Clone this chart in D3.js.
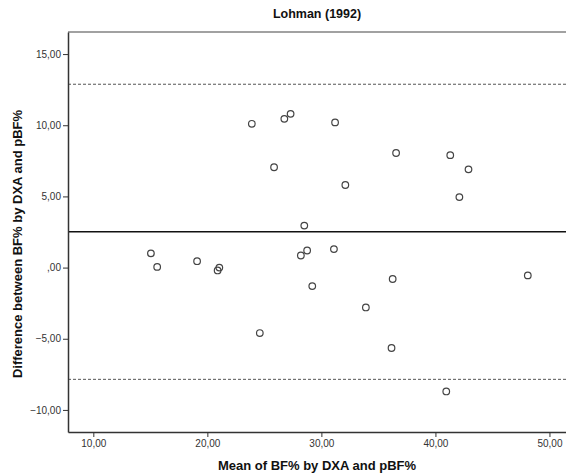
<!DOCTYPE html>
<html>
<head>
<meta charset="utf-8">
<script src="https://cdn.jsdelivr.net/npm/d3@7"></script>
<style>
  body { margin: 0; background: #fff; }
  text { font-family: "Liberation Sans", Arial, sans-serif; }
</style>
</head>
<body>
<svg width="566" height="476"></svg>
<script>
// values
var meanBF = [23.9, 26.75, 27.3, 25.85, 28.5, 15.05, 15.6, 19.1, 21.05, 20.9, 28.2, 28.75, 29.2,
              31.2, 36.55, 41.3, 42.9, 32.1, 42.1, 31.1, 36.25, 48.1, 33.9, 36.15, 40.95, 24.6];
var diffBF = [10.1, 10.45, 10.8, 7.05, 2.95, 1.0, 0.05, 0.45, 0.0, -0.2, 0.85, 1.2, -1.3,
              10.2, 8.05, 7.9, 6.9, 5.8, 4.95, 1.3, -0.8, -0.55, -2.8, -5.65, -8.7, -4.6];
var xTicks = [10, 20, 30, 40, 50];
var yTicks = [-10, -5, 0, 5, 10, 15];
var meanLine = 2.52;
var limitLines = [12.88, -7.85];

var svg = d3.select('svg');
var padding = {t: 32, r: 0, b: 44, l: 68};
var svgWidth = +svg.attr('width');
var svgHeight = +svg.attr('height');

var xScale = d3.scaleLinear().domain([7.78, 51.45]).range([padding.l, svgWidth - padding.r]);
var yScale = d3.scaleLinear().domain([-11.55, 16.55]).range([svgHeight - padding.b, padding.t]);

var fmt = function(d) {
    var s = d3.format('.2f')(d).replace('.', ',');
    return s.replace(/^0,/, ',').replace(/^-0,/, '-,');
};

// frame top line
svg.append('line')
    .attr('x1', padding.l).attr('x2', svgWidth)
    .attr('y1', yScale.range()[1]).attr('y2', yScale.range()[1])
    .attr('stroke', '#444').attr('stroke-width', 1.2);

// reference lines
svg.append('line')
    .attr('x1', padding.l).attr('x2', svgWidth)
    .attr('y1', yScale(meanLine)).attr('y2', yScale(meanLine))
    .attr('stroke', '#111').attr('stroke-width', 1.5);

svg.selectAll('.limit')
    .data(limitLines)
    .enter()
    .append('line')
    .attr('class', 'limit')
    .attr('x1', padding.l).attr('x2', svgWidth)
    .attr('y1', function(d){return yScale(d);})
    .attr('y2', function(d){return yScale(d);})
    .attr('stroke', '#555').attr('stroke-width', 1)
    .attr('stroke-dasharray', '3,2');

// axes
var xAxis = d3.axisBottom(xScale).tickValues(xTicks).tickFormat(fmt).tickSize(5).tickSizeOuter(0);
var yAxis = d3.axisLeft(yScale).tickValues(yTicks).tickFormat(fmt).tickSize(5).tickSizeOuter(0);

var gx = svg.append('g')
    .attr('transform', 'translate(0,' + (svgHeight - padding.b) + ')')
    .call(xAxis);
var gy = svg.append('g')
    .attr('transform', 'translate(' + padding.l + ',0)')
    .call(yAxis);

[gx, gy].forEach(function(g) {
    g.select('.domain').attr('stroke', '#333').attr('stroke-width', 1.5);
    g.selectAll('.tick line').attr('stroke', '#333');
    g.selectAll('.tick text')
        .attr('fill', '#333')
        .style('font-size', '10px')
        .style('font-family', '"Liberation Sans", Arial, sans-serif');
});
gy.selectAll('.tick text').attr('x', -7);
gx.selectAll('.tick text').attr('y', 8);

// points
svg.append('g').selectAll('circle')
    .data(meanBF)
    .enter()
    .append('circle')
    .attr('cx', function(d){return xScale(d);})
    .attr('cy', function(d, i){return yScale(diffBF[i]);})
    .attr('r', 3.3)
    .attr('fill', 'none')
    .attr('stroke', '#444')
    .attr('stroke-width', 1.2);

// titles
var midX = (padding.l + svgWidth) / 2;
svg.append('text')
    .attr('x', midX).attr('y', 18)
    .attr('text-anchor', 'middle')
    .style('font-size', '12.5px').style('font-weight', 'bold')
    .attr('fill', '#111')
    .text('Lohman (1992)');

svg.append('text')
    .attr('x', midX).attr('y', 470)
    .attr('text-anchor', 'middle')
    .style('font-size', '13px').style('font-weight', 'bold')
    .attr('fill', '#111')
    .text('Mean of BF% by DXA and pBF%');

svg.append('text')
    .attr('transform', 'translate(22,' + ((padding.t + svgHeight - padding.b) / 2 + 12) + ') rotate(-90)')
    .attr('text-anchor', 'middle')
    .style('font-size', '13px').style('font-weight', 'bold')
    .attr('fill', '#111')
    .text('Difference between BF% by DXA and pBF%');
</script>
</body>
</html>
